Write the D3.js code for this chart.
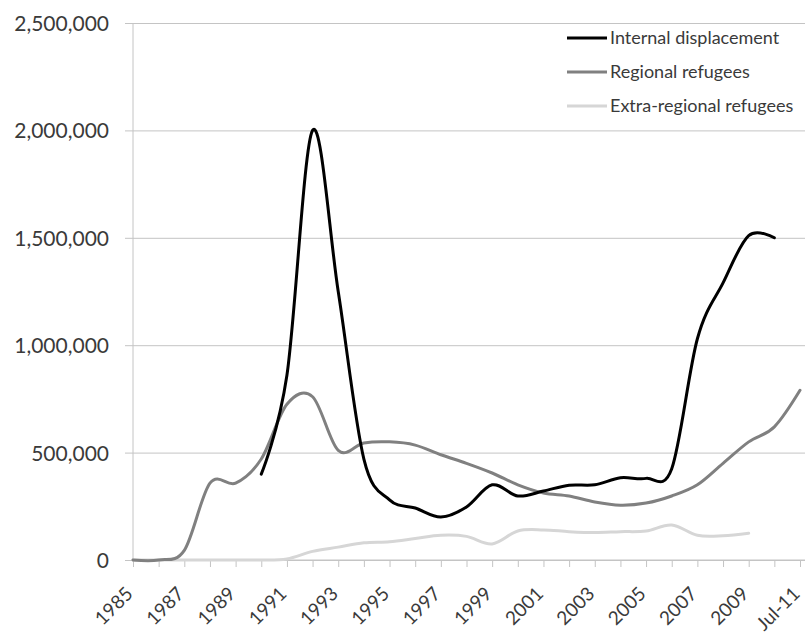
<!DOCTYPE html>
<html>
<head>
<meta charset="utf-8">
<script src="https://cdn.jsdelivr.net/npm/d3@7"></script>
<style>
  html, body { margin: 0; padding: 0; background: #fff; }
  svg text { font-family: Lato, "Open Sans", sans-serif; fill: #3a3a3a; }
</style>
</head>
<body>
<div id="container"></div>
<script>
const categories = [
  "1985", "1986", "1987", "1988", "1989", "1990", "1991", "1992", "1993",
  "1994", "1995", "1996", "1997", "1998", "1999", "2000", "2001", "2002",
  "2003", "2004", "2005", "2006", "2007", "2008", "2009", "2010", "Jul-11"
];
const internalDisplacement = [
  null, null, null, null, null, 400000, 860000, 2000000, 1250000,
  470000, 280000, 242000, 200000, 247000, 350000, 298000, 321000, 348000,
  350000, 383000, 380000, 425000, 1030000, 1290000, 1510000, 1500000, null
];
const regionalRefugees = [
  0, 0, 45000, 358000, 358000, 470000, 725000, 760000, 510000,
  545000, 550000, 535000, 490000, 450000, 405000, 350000, 312000, 298000,
  270000, 255000, 265000, 298000, 350000, 450000, 550000, 620000, 790000
];
const extraRegionalRefugees = [
  0, 0, 0, 0, 0, 0, 5000, 40000, 60000,
  80000, 85000, 100000, 115000, 110000, 75000, 135000, 140000, 132000,
  128000, 132000, 135000, 163000, 115000, 113000, 125000, null, null
];
const yTicks = [0, 500000, 1000000, 1500000, 2000000, 2500000];
const xLabels = categories.filter((c, i) => i % 2 === 0);

const series = [
  { name: "Internal displacement", values: internalDisplacement, color: "#000000" },
  { name: "Regional refugees", values: regionalRefugees, color: "#808080" },
  { name: "Extra-regional refugees", values: extraRegionalRefugees, color: "#d6d6d6" }
];

const width = 806;
const height = 635;
const gridColor = "#c4c4c4";

const setAttrs = (el, attrs) =>
  Object.entries(attrs).reduce((acc, [key, val]) => acc.attr(key, val), el);

const svg = d3.select("#container").append("svg");
setAttrs(svg, { width, height, viewBox: `0 0 ${width} ${height}` });

const x = d3.scalePoint().domain(categories).range([133, 800]);
const y = d3.scaleLinear().domain([0, 2500000]).range([560, 23]);
const plotRight = 805;

// horizontal gridlines + y labels
const yAxis = d3.axisLeft(y)
  .tickValues(yTicks)
  .tickFormat(d3.format(","))
  .tickSize(-(plotRight - x.range()[0]))
  .tickPadding(16);
const yG = svg.append("g").attr("transform", `translate(${x.range()[0]},0)`).call(yAxis);
yG.select(".domain").remove();
yG.selectAll(".tick line").attr("stroke", gridColor).attr("x1", -8);
yG.selectAll(".tick text").attr("font-size", 21).attr("x", -24).attr("dy", "0.36em");

// vertical axis line
const axisLine = svg.append("line");
setAttrs(axisLine, { x1: 133, x2: 133, y1: y(2500000), y2: y(0), stroke: gridColor });

// x axis with ticks under each category
const xAxis = d3.axisBottom(x).tickSize(7).tickFormat(() => "");
const xG = svg.append("g").attr("transform", `translate(0,${y(0)})`).call(xAxis);
xG.select(".domain").attr("d", `M${x.range()[0]},0H${plotRight}`).attr("stroke", gridColor);
xG.selectAll(".tick line").attr("stroke", gridColor);

svg.append("g")
  .selectAll("text")
  .data(xLabels)
  .join("text")
  .attr("transform", (d) => `translate(${x(d) + 1},${y(0) + 35}) rotate(-45)`)
  .attr("text-anchor", "end")
  .attr("font-size", 19)
  .text((d) => d);

// lines
const line = d3.line()
  .defined((d) => d !== null)
  .x((d, i) => x(categories[i]))
  .y((d) => y(d))
  .curve(d3.curveCardinal.tension(0));

const drawOrder = [2, 1, 0];
drawOrder.forEach((k) => {
  const s = series[k];
  const path = svg.append("path");
  setAttrs(path, {
    d: line(s.values),
    fill: "none",
    stroke: s.color,
    "stroke-width": 3,
    "stroke-linejoin": "round",
    "stroke-linecap": "round"
  });
});

// legend
const legend = svg.append("g");
series.forEach((s, i) => {
  const ly = 38 + i * 34;
  const l = legend.append("line");
  setAttrs(l, { x1: 567, x2: 607, y1: ly, y2: ly, stroke: s.color, "stroke-width": 3 });
  const t = legend.append("text");
  setAttrs(t, { x: 610, y: ly, dy: "0.36em", "font-size": 18 });
  t.text(s.name);
});
</script>
</body>
</html>
